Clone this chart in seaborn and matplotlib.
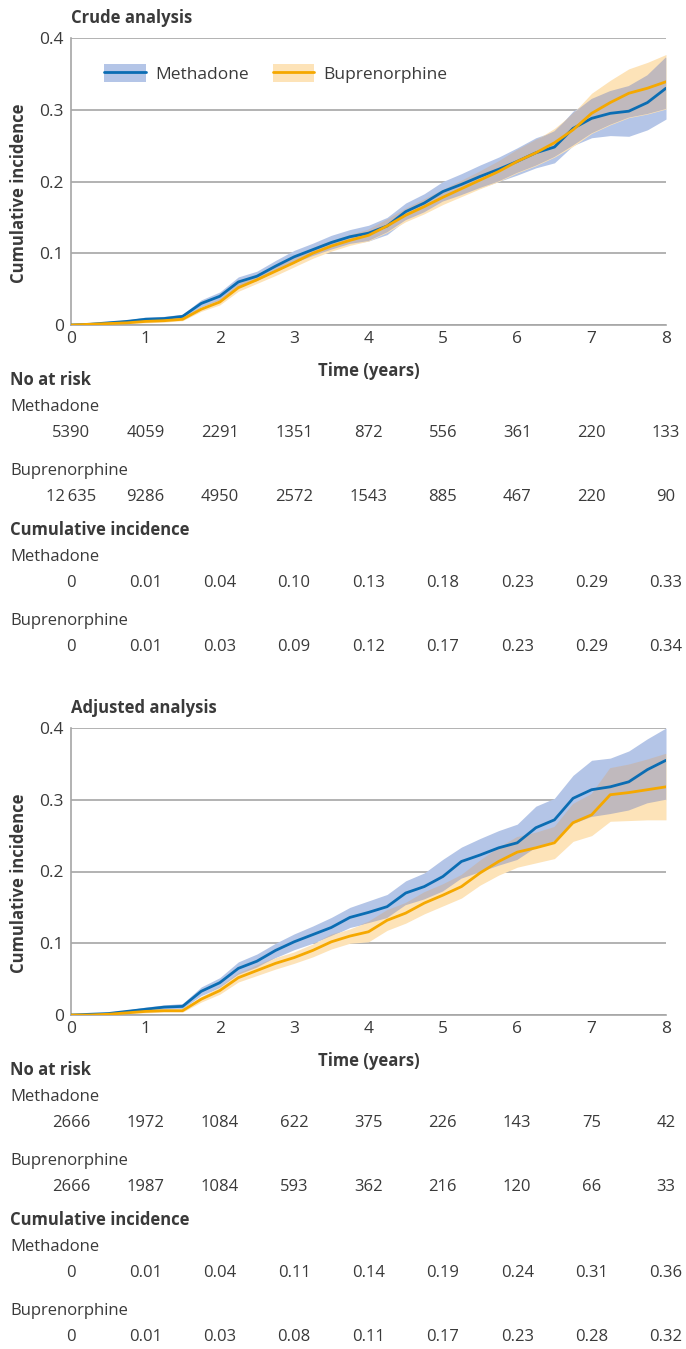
import numpy as np
import pandas as pd
import seaborn as sns
import matplotlib.pyplot as plt
from matplotlib.patches import Patch
from matplotlib.lines import Line2D
from matplotlib.transforms import blended_transform_factory

sns.set_theme(style="white")
plt.rcParams['font.family'] = ['Open Sans', 'Noto Sans', 'DejaVu Sans']

years = [0, 0.25, 0.5, 0.75, 1, 1.25, 1.5, 1.75, 2, 2.25, 2.5, 2.75, 3, 3.25, 3.5, 3.75,
         4, 4.25, 4.5, 4.75, 5, 5.25, 5.5, 5.75, 6, 6.25, 6.5, 6.75, 7, 7.25, 7.5, 7.75, 8]

# crude analysis
crude_meth = [0, 0.001, 0.003, 0.005, 0.008, 0.009, 0.012, 0.030, 0.040, 0.060, 0.068, 0.082, 0.095, 0.105, 0.115, 0.123,
              0.128, 0.138, 0.158, 0.170, 0.186, 0.196, 0.207, 0.217, 0.228, 0.240, 0.248, 0.274, 0.288, 0.295, 0.298, 0.310, 0.330]
crude_meth_lo = [0, 0.000, 0.001, 0.003, 0.005, 0.006, 0.009, 0.025, 0.034, 0.053, 0.061, 0.074, 0.086, 0.096, 0.105, 0.113,
                 0.117, 0.126, 0.146, 0.157, 0.172, 0.181, 0.191, 0.200, 0.209, 0.219, 0.226, 0.250, 0.261, 0.264, 0.263, 0.272, 0.287]
crude_meth_hi = [0, 0.002, 0.005, 0.007, 0.011, 0.012, 0.015, 0.035, 0.046, 0.067, 0.075, 0.090, 0.104, 0.114, 0.125, 0.133,
                 0.139, 0.150, 0.170, 0.183, 0.200, 0.211, 0.223, 0.234, 0.247, 0.261, 0.270, 0.298, 0.315, 0.326, 0.333, 0.348, 0.373]
crude_bup = [0, 0.001, 0.002, 0.003, 0.005, 0.006, 0.008, 0.022, 0.032, 0.052, 0.063, 0.075, 0.087, 0.100, 0.110, 0.118,
             0.125, 0.138, 0.153, 0.165, 0.178, 0.190, 0.202, 0.214, 0.228, 0.240, 0.254, 0.272, 0.295, 0.310, 0.323, 0.330, 0.339]
crude_bup_lo = [0, 0.000, 0.001, 0.002, 0.003, 0.004, 0.006, 0.019, 0.028, 0.047, 0.058, 0.069, 0.081, 0.093, 0.103, 0.111,
                0.117, 0.129, 0.144, 0.155, 0.168, 0.179, 0.190, 0.200, 0.212, 0.222, 0.234, 0.249, 0.267, 0.279, 0.289, 0.294, 0.301]
crude_bup_hi = [0, 0.002, 0.003, 0.004, 0.007, 0.008, 0.010, 0.025, 0.036, 0.057, 0.068, 0.081, 0.093, 0.107, 0.117, 0.125,
                0.133, 0.147, 0.162, 0.175, 0.188, 0.201, 0.214, 0.228, 0.244, 0.258, 0.274, 0.295, 0.323, 0.341, 0.357, 0.366, 0.377]

# adjusted analysis
adj_meth = [0, 0.001, 0.002, 0.005, 0.008, 0.011, 0.012, 0.033, 0.045, 0.065, 0.075, 0.090, 0.102, 0.112, 0.122, 0.136,
            0.143, 0.151, 0.170, 0.179, 0.193, 0.214, 0.223, 0.233, 0.240, 0.261, 0.272, 0.302, 0.314, 0.318, 0.325, 0.342, 0.355]
adj_meth_lo = [0, 0.000, 0.001, 0.003, 0.006, 0.008, 0.009, 0.027, 0.038, 0.056, 0.066, 0.080, 0.091, 0.100, 0.110, 0.122,
               0.128, 0.135, 0.153, 0.161, 0.172, 0.190, 0.199, 0.208, 0.216, 0.233, 0.242, 0.266, 0.276, 0.280, 0.285, 0.295, 0.300]
adj_meth_hi = [0, 0.002, 0.004, 0.007, 0.011, 0.014, 0.016, 0.039, 0.052, 0.074, 0.085, 0.100, 0.113, 0.124, 0.136, 0.150,
               0.159, 0.168, 0.187, 0.198, 0.217, 0.234, 0.246, 0.257, 0.266, 0.291, 0.302, 0.334, 0.355, 0.358, 0.368, 0.385, 0.400]
adj_bup = [0, 0.000, 0.001, 0.003, 0.005, 0.006, 0.006, 0.022, 0.034, 0.052, 0.062, 0.072, 0.080, 0.090, 0.102, 0.110,
           0.116, 0.132, 0.142, 0.156, 0.167, 0.179, 0.198, 0.214, 0.227, 0.233, 0.240, 0.268, 0.279, 0.307, 0.310, 0.314, 0.318]
adj_bup_lo = [0, 0.000, 0.000, 0.002, 0.003, 0.004, 0.004, 0.018, 0.029, 0.046, 0.055, 0.064, 0.072, 0.081, 0.092, 0.100,
              0.102, 0.118, 0.128, 0.141, 0.152, 0.163, 0.181, 0.195, 0.206, 0.212, 0.218, 0.242, 0.250, 0.270, 0.271, 0.272, 0.272]
adj_bup_hi = [0, 0.001, 0.002, 0.004, 0.007, 0.008, 0.008, 0.026, 0.039, 0.058, 0.069, 0.080, 0.088, 0.099, 0.112, 0.120,
              0.130, 0.146, 0.156, 0.171, 0.182, 0.195, 0.215, 0.233, 0.248, 0.254, 0.262, 0.294, 0.308, 0.344, 0.349, 0.356, 0.364]

# tables under the plots
table_years = [0, 1, 2, 3, 4, 5, 6, 7, 8]
crude_risk_meth = ["5390", "4059", "2291", "1351", "872", "556", "361", "220", "133"]
crude_risk_bup = ["12\u2009635", "9286", "4950", "2572", "1543", "885", "467", "220", "90"]
crude_ci_meth = ["0", "0.01", "0.04", "0.10", "0.13", "0.18", "0.23", "0.29", "0.33"]
crude_ci_bup = ["0", "0.01", "0.03", "0.09", "0.12", "0.17", "0.23", "0.29", "0.34"]
adj_risk_meth = ["2666", "1972", "1084", "622", "375", "226", "143", "75", "42"]
adj_risk_bup = ["2666", "1987", "1084", "593", "362", "216", "120", "66", "33"]
adj_ci_meth = ["0", "0.01", "0.04", "0.11", "0.14", "0.19", "0.24", "0.31", "0.36"]
adj_ci_bup = ["0", "0.01", "0.03", "0.08", "0.11", "0.17", "0.23", "0.28", "0.32"]

BLUE = "#0b6db3"
BLUE_BAND = "#b4c5e7"
ORANGE = "#f5a800"
ORANGE_BAND = "#fde3b8"
OVERLAP = "#c0b9bd"
GRID = "#a6a6a6"
TEXT = "#3a3a3a"

W, H = 686, 1349


def fy(px):
    return 1 - px / H


def draw_panel(fig, off, title, m, m_lo, m_hi, b, b_lo, b_hi, risk_m, risk_b, ci_m, ci_b, legend):
    ax = fig.add_axes([71 / W, fy(325 + off), (666 - 71) / W, 287 / H])
    t = np.array(years)
    m_lo, m_hi, b_lo, b_hi = map(np.array, (m_lo, m_hi, b_lo, b_hi))
    ax.fill_between(t, m_lo, m_hi, color=BLUE_BAND, lw=0, zorder=1)
    ax.fill_between(t, b_lo, b_hi, color=ORANGE_BAND, lw=0, zorder=1)
    ov_lo = np.maximum(m_lo, b_lo)
    ov_hi = np.minimum(m_hi, b_hi)
    ax.fill_between(t, ov_lo, ov_hi, where=ov_hi > ov_lo, interpolate=True,
                    color=OVERLAP, lw=0, zorder=1.5)

    df = pd.DataFrame({
        "time": years * 2,
        "ci": list(m) + list(b),
        "group": ["Methadone"] * len(years) + ["Buprenorphine"] * len(years),
    })
    sns.lineplot(data=df, x="time", y="ci", hue="group", palette=[BLUE, ORANGE],
                 hue_order=["Methadone", "Buprenorphine"],
                 lw=2.0, ax=ax, legend=False, zorder=3)

    ax.set_xlim(0, 8)
    ax.set_ylim(0, 0.4)
    ax.set_yticks([0, 0.1, 0.2, 0.3, 0.4])
    ax.set_yticklabels(["0", "0.1", "0.2", "0.3", "0.4"])
    ax.set_xticks(range(9))
    ax.grid(axis="y", color=GRID, lw=1.2, zorder=0)
    for s in ["top", "right"]:
        ax.spines[s].set_visible(False)
    for s in ["left", "bottom"]:
        ax.spines[s].set_color(GRID)
        ax.spines[s].set_linewidth(1.2)
    ax.tick_params(axis="x", direction="in", length=5, width=1.2, color=GRID,
                   labelsize=12.5, labelcolor=TEXT, pad=4)
    ax.tick_params(axis="y", length=0, labelsize=12.5, labelcolor=TEXT, pad=5)
    ax.set_xlabel("Time (years)", fontsize=12, fontweight="bold", color=TEXT)
    ax.xaxis.set_label_coords(0.5, -0.13)
    ax.set_ylabel("Cumulative incidence", fontsize=12, fontweight="bold", color=TEXT)
    ax.yaxis.set_label_coords(-0.073, 0.46)

    fig.text(71 / W, fy(18 + off), title, fontsize=12, fontweight="bold", color=TEXT,
             ha="left", va="center")

    if legend:
        handles = [(Patch(color=BLUE_BAND, lw=0), Line2D([], [], color=BLUE, lw=2)),
                   (Patch(color=ORANGE_BAND, lw=0), Line2D([], [], color=ORANGE, lw=2))]
        ax.legend(handles, ["Methadone", "Buprenorphine"], loc="center left",
                  bbox_to_anchor=(0.03, 0.875), ncol=2, frameon=False, fontsize=12.5,
                  handlelength=2.4, handleheight=1.2, columnspacing=1.4, handletextpad=0.5,
                  labelcolor=TEXT)

    tr = blended_transform_factory(ax.transData, fig.transFigure)
    fig.text(10 / W, fy(380 + off), "No at risk", fontsize=12, fontweight="bold", color=TEXT, va="center")
    fig.text(10 / W, fy(407 + off), "Methadone", fontsize=12, color=TEXT, va="center")
    fig.text(10 / W, fy(471 + off), "Buprenorphine", fontsize=12, color=TEXT, va="center")
    fig.text(10 / W, fy(530 + off), "Cumulative incidence", fontsize=12, fontweight="bold", color=TEXT, va="center")
    fig.text(10 / W, fy(557 + off), "Methadone", fontsize=12, color=TEXT, va="center")
    fig.text(10 / W, fy(621 + off), "Buprenorphine", fontsize=12, color=TEXT, va="center")
    for row, ypx in [(risk_m, 433), (risk_b, 497), (ci_m, 583), (ci_b, 647)]:
        for x, s in zip(table_years, row):
            ax.text(x, fy(ypx + off), s, transform=tr, fontsize=12, color=TEXT,
                    ha="center", va="center", clip_on=False)
    return ax


fig = plt.figure(figsize=(W / 100, H / 100), dpi=100)
draw_panel(fig, 0, "Crude analysis", crude_meth, crude_meth_lo, crude_meth_hi,
           crude_bup, crude_bup_lo, crude_bup_hi,
           crude_risk_meth, crude_risk_bup, crude_ci_meth, crude_ci_bup, legend=True)
draw_panel(fig, 690, "Adjusted analysis", adj_meth, adj_meth_lo, adj_meth_hi,
           adj_bup, adj_bup_lo, adj_bup_hi,
           adj_risk_meth, adj_risk_bup, adj_ci_meth, adj_ci_bup, legend=False)

fig.savefig("out.png", dpi=100)
